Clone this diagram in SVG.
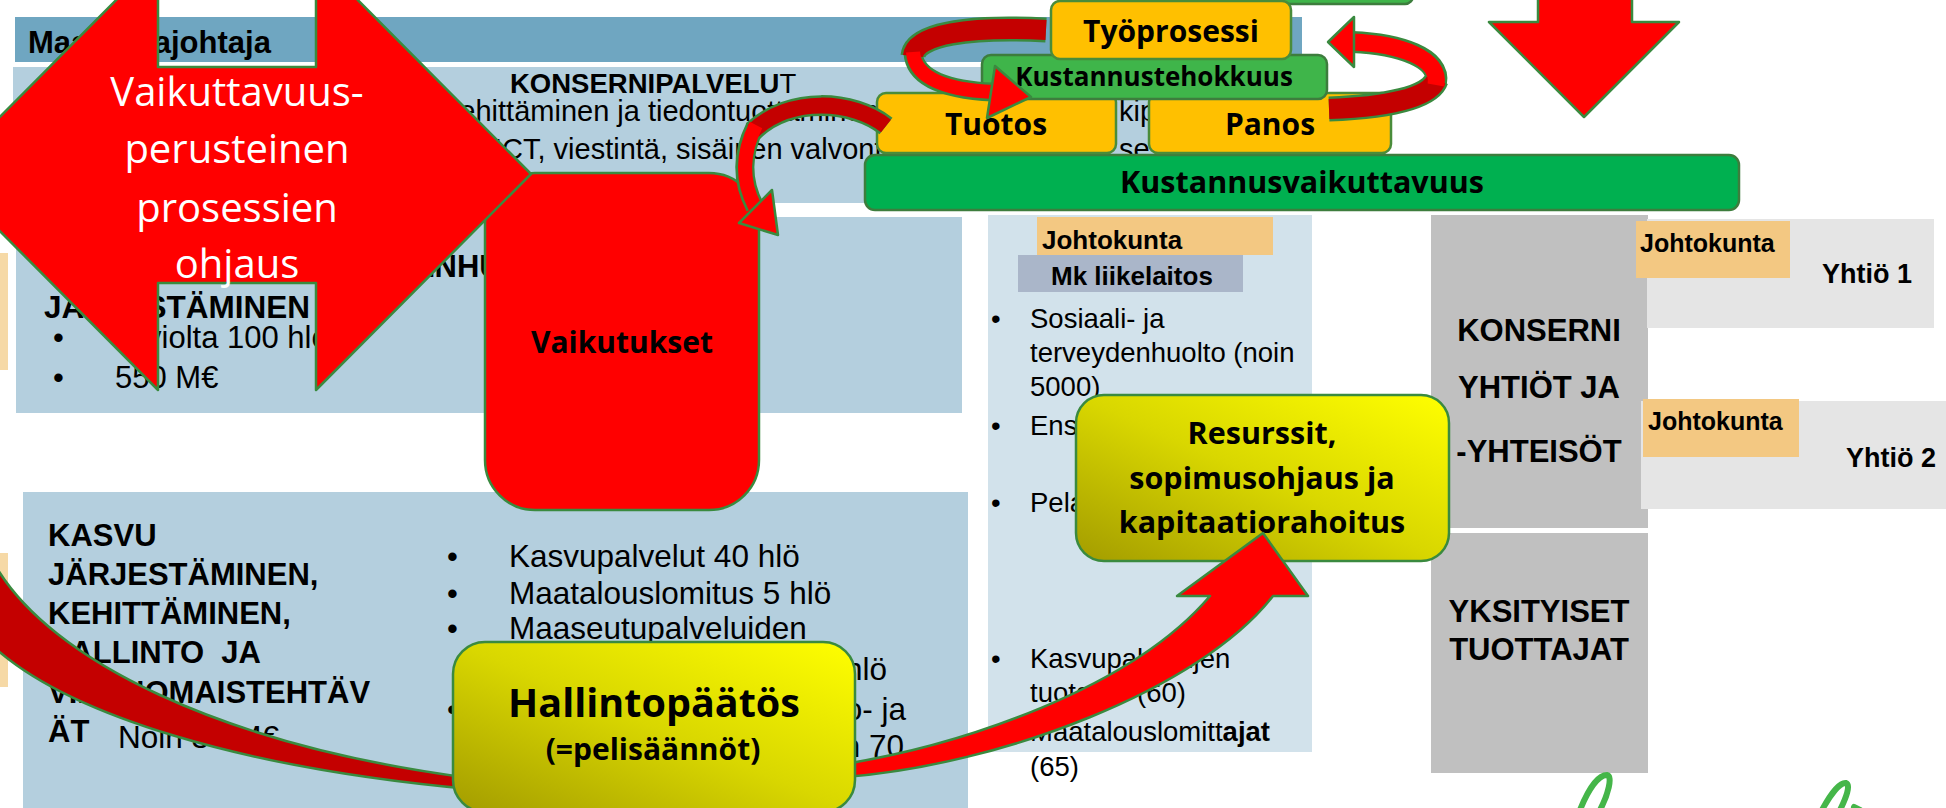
<svg xmlns="http://www.w3.org/2000/svg" width="1946" height="808" viewBox="0 0 1946 808">
<defs>
<linearGradient id="yg" x1="0" y1="1" x2="1" y2="0">
<stop offset="0" stop-color="#a39c00"/><stop offset="0.5" stop-color="#d9d700"/><stop offset="1" stop-color="#ffff00"/>
</linearGradient>
<style>
.ar{font-family:"Liberation Sans",Arial,sans-serif;fill:#000}
.b{font-weight:bold}
.os{font-family:"Open Sans","Noto Sans",sans-serif;font-weight:bold;fill:#000}
.mid{text-anchor:middle}
.end{text-anchor:end}
.lb{fill:#b4cfde}
.red{fill:#ff0000;stroke:#3a8a3f;stroke-width:2.5;stroke-linejoin:round}
.dred{fill:#c40000;stroke:#3a8a3f;stroke-width:2.5;stroke-linejoin:round}
.org{fill:#ffc000;stroke:#4a8c3a;stroke-width:2.5}
.grn{fill:#3fb54a;stroke:#3d7d3d;stroke-width:2.5}
.yel{fill:url(#yg);stroke:#3a8a3f;stroke-width:2.5}
.ol{fill:none;stroke:#3a8a3f;stroke-linecap:butt}
.rb{fill:none;stroke:#ff0000;stroke-linecap:butt}
.db{fill:none;stroke:#c40000;stroke-linecap:butt}
.jk{fill:#f3c882}
.gr{fill:#c0c0c0}
.lg{fill:#e5e5e5}
.sig{fill:none;stroke:#45b649;stroke-width:6;stroke-linecap:round}
</style>
</defs>
<rect width="1946" height="808" fill="#ffffff"/>

<g id="panels">
<rect x="15" y="17" width="1287" height="45" fill="#6fa6c1"/>
<rect class="lb" x="13" y="67" width="1287" height="136"/>
<rect class="lb" x="16" y="217" width="946" height="196"/>
<rect class="lb" x="23" y="492" width="945" height="320"/>
<rect x="0" y="253" width="8" height="117" fill="#f6d9a6"/>
<rect x="0" y="553" width="8" height="134" fill="#f6d9a6"/>
</g>

<g id="maakuntajohtaja"><text class="ar b" x="28" y="53" font-size="31">Maakuntajohtaja</text></g>

<g id="konsernipalvelut" class="ar" font-size="29">
<text class="b" x="510" y="93" font-size="27.5">KONSERNIPALVELU<tspan font-weight="normal">T</tspan></text>
<text x="440" y="121">Kehittäminen ja tiedontuottaminen,</text>
<text x="1119" y="121">kip</text>
<text x="494" y="159">ICT, viestintä, sisäinen valvonta</text>
<text x="1119" y="159">se</text>
</g>

<g id="sote" class="ar">
<text class="b" x="268" y="277" font-size="31">TERVEYDENHUOLLON</text>
<text class="b" x="44" y="318" font-size="31.5">JÄRJESTÄMINEN</text>
<text x="53" y="348" font-size="31">•</text>
<text x="53" y="388" font-size="31">•</text>
<text x="115" y="348" font-size="31">Arviolta 100 hlö</text>
<text x="115" y="388" font-size="31">550 M€</text>
</g>

<g id="kasvu" class="ar">
<text class="b" x="48" y="546" font-size="31">KASVU</text>
<text class="b" x="48" y="585" font-size="31">JÄRJESTÄMINEN,</text>
<text class="b" x="48" y="624" font-size="31">KEHITTÄMINEN,</text>
<text class="b" x="48" y="663" font-size="31">HALLINTO&#160; JA</text>
<text class="b" x="48" y="703" font-size="31">VIRANOMAISTEHTÄV</text>
<text class="b" x="48" y="742" font-size="31">ÄT</text>
<text x="118" y="748" font-size="31.5">Noin 30 M€</text>
<text x="447" y="567" font-size="31">•</text>
<text x="447" y="604" font-size="31">•</text>
<text x="447" y="639" font-size="31">•</text>
<text x="447" y="720" font-size="31">•</text>
<text x="509" y="567" font-size="31.5">Kasvupalvelut 40 hlö</text>
<text x="509" y="604" font-size="31.5">Maatalouslomitus 5 hlö</text>
<text x="509" y="639" font-size="31.5">Maaseutupalveluiden</text>
<text class="end" x="887" y="680" font-size="31.5">hlö</text>
<text class="end" x="906" y="720" font-size="31.5">o- ja</text>
<text class="end" x="904" y="757" font-size="31.5">n 70</text>
</g>

<g id="liikelaitos" class="ar" font-size="27.5">
<rect x="988" y="215" width="324" height="537" fill="#d2e2eb"/>
<rect class="jk" x="1037" y="217" width="236" height="38"/>
<rect x="1018" y="255" width="225" height="37" fill="#aab6c9"/>
<text class="b" x="1042" y="249" font-size="26">Johtokunta</text>
<text class="b" x="1051" y="285" font-size="26">Mk liikelaitos</text>
<text x="991" y="328">•</text>
<text x="991" y="435">•</text>
<text x="991" y="512">•</text>
<text x="991" y="668">•</text>
<text x="991" y="741">•</text>
<text x="1030" y="328">Sosiaali- ja</text>
<text x="1030" y="362">terveydenhuolto (noin</text>
<text x="1030" y="396">5000)</text>
<text x="1030" y="435">Ensi</text>
<text x="1030" y="512">Pela</text>
<text x="1030" y="668">Kasvupalvelujen</text>
<text x="1030" y="702">tuotanto (60)</text>
<text x="1030" y="741">Maatalouslomitt<tspan font-weight="bold">ajat</tspan></text>
<text x="1030" y="776">(65)</text>
</g>

<g id="konserni">
<rect class="gr" x="1431" y="215" width="217" height="313"/>
<text class="ar b mid" x="1539" y="341" font-size="31">KONSERNI</text>
<text class="ar b mid" x="1539" y="398" font-size="31">YHTIÖT JA</text>
<text class="ar b mid" x="1539" y="462" font-size="31">-YHTEISÖT</text>
</g>
<g id="yksityiset">
<rect class="gr" x="1431" y="533" width="217" height="240"/>
<text class="ar b mid" x="1539" y="622" font-size="31">YKSITYISET</text>
<text class="ar b mid" x="1539" y="660" font-size="31">TUOTTAJAT</text>
</g>
<g id="yhtio1">
<rect class="lg" x="1647" y="219" width="287" height="109"/>
<rect class="jk" x="1636" y="221" width="154" height="57"/>
<text class="ar b" x="1640" y="252" font-size="25">Johtokunta</text>
<text class="ar b" x="1822" y="283" font-size="27">Yhtiö 1</text>
</g>
<g id="yhtio2">
<rect class="lg" x="1641" y="401" width="305" height="108"/>
<rect class="jk" x="1643" y="399" width="156" height="58"/>
<text class="ar b" x="1648" y="430" font-size="25">Johtokunta</text>
<text class="ar b" x="1846" y="467" font-size="27">Yhtiö 2</text>
</g>

<g id="vaikutukset">
<rect class="red" x="485" y="173" width="274" height="337" rx="50"/>
<text class="os mid" x="622" y="353" font-size="30">Vaikutukset</text>
</g>

<g id="ohjaus">
<polygon class="red" points="-57,174 158,-42 158,67 316,67 316,-42 531,174 316,390 316,283 158,283 158,390"/>
<g font-family="'Open Sans','Noto Sans',sans-serif" font-size="40" fill="#ffffff" text-anchor="middle">
<text x="237" y="106">Vaikuttavuus-</text>
<text x="237" y="163">perusteinen</text>
<text x="237" y="222">prosessien</text>
<text x="237" y="278">ohjaus</text>
</g>
</g>

<g id="pyramidi">
<rect class="grn" x="1100" y="-30" width="313" height="34" rx="8"/>
<rect x="865" y="155" width="874" height="55" rx="10" fill="#00b050" stroke="#3d7d3d" stroke-width="2.5"/>
<text class="os mid" x="1302" y="193" font-size="30.5">Kustannusvaikuttavuus</text>
<rect class="org" x="877" y="93" width="239" height="60" rx="9"/>
<text class="os mid" x="996" y="135" font-size="30">Tuotos</text>
<rect class="org" x="1149" y="93" width="242" height="60" rx="9"/>
<text class="os mid" x="1270" y="135" font-size="30">Panos</text>
<rect class="grn" x="982" y="55" width="345" height="44" rx="9"/>
<text class="os mid" x="1154" y="86" font-size="26">Kustannustehokkuus</text>
<rect class="org" x="1051" y="1" width="240" height="58" rx="9"/>
<text class="os mid" x="1171" y="42" font-size="30">Työprosessi</text>
</g>

<g id="connectors">
<path class="ol" stroke-width="25" d="M1046,30 C970,26 915,34 913,56"/>
<path class="ol" stroke-width="19" d="M913,53 C915,80 950,90 993,92"/>
<path class="db" stroke-width="20" d="M1046,30 C970,26 915,34 913,56"/>
<path class="rb" stroke-width="14" d="M913,52 C915,80 950,90 993,92"/>
<polygon class="red" points="995,66 1031,97 987,118"/>
<path class="ol" stroke-width="21" d="M886,126 C853,100 790,96 753,131"/>
<path class="ol" stroke-width="19" d="M755,127 C741,155 742,182 755,207"/>
<path class="db" stroke-width="16" d="M886,126 C853,100 790,96 753,131"/>
<path class="rb" stroke-width="14" d="M756,125 C741,155 742,182 755,207"/>
<polygon class="red" points="739,223 778,235 772,190"/>
<path class="ol" stroke-width="25" d="M1329,109 C1385,107 1430,98 1436,80"/>
<path class="ol" stroke-width="22" d="M1436,83 C1441,58 1400,44 1352,42"/>
<path class="db" stroke-width="20" d="M1329,109 C1385,107 1430,98 1436,80"/>
<path class="rb" stroke-width="17" d="M1436,85 C1441,58 1400,44 1352,42"/>
<polygon class="red" points="1354,17 1328,42 1354,67"/>
<polygon class="red" points="1538,-3 1632,-3 1632,22 1679,22 1584,117 1489,22 1538,22"/>
</g>

<g id="resurssit">
<rect class="yel" x="1076" y="395" width="373" height="166" rx="28"/>
<text class="os mid" x="1262" y="444" font-size="30.5">Resurssit,</text>
<text class="os mid" x="1262" y="489" font-size="30.5">sopimusohjaus ja</text>
<text class="os mid" x="1262" y="533" font-size="30.5">kapitaatiorahoitus</text>
</g>

<g id="swoosh">
<path class="dred" d="M-5,565 C50,660 220,745 470,778 L470,789 C240,768 70,715 -5,648 Z"/>
<path class="red" d="M845,764 C960,745 1130,690 1210,596 L1177,596 L1263,533 L1308,596 L1273,596 C1200,690 1000,765 845,777 Z"/>
</g>

<g id="hallintopaatos">
<rect class="yel" x="453" y="642" width="402" height="170" rx="32"/>
<text class="os mid" x="654" y="717" font-size="39.5">Hallintopäätös</text>
<text class="os mid" x="653" y="760" font-size="30">(=pelisäännöt)</text>
</g>

<g id="logo">
<path class="sig" d="M1580,810 C1588,790 1598,775 1607,775 C1613,776 1608,795 1600,810"/>
<path class="sig" d="M1822,810 C1830,795 1840,782 1846,783 C1851,785 1846,798 1840,810"/>
<path class="sig" d="M1854,807 L1860,810"/>
</g>
</svg>
